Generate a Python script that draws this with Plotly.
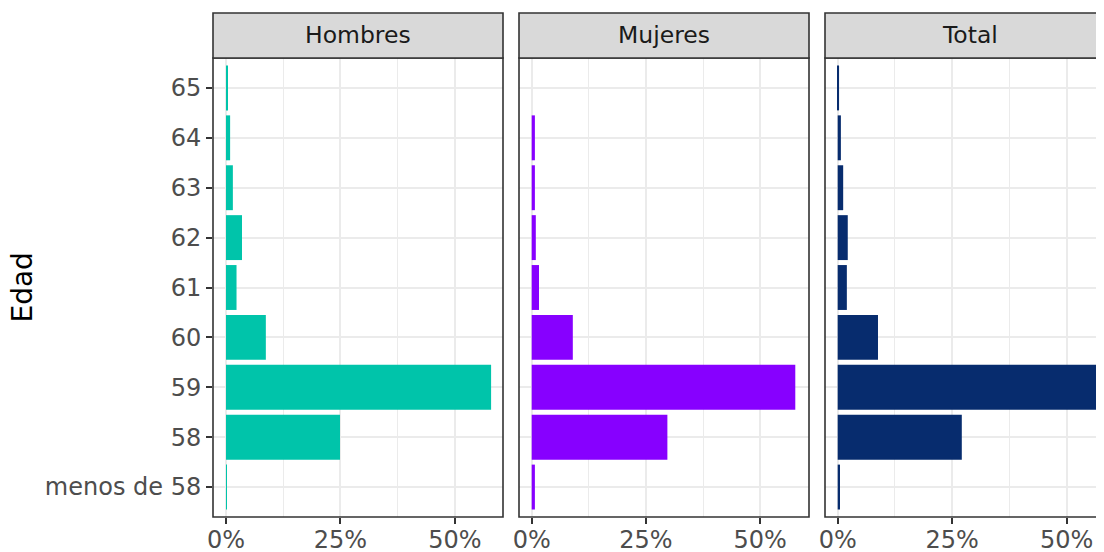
import plotly.graph_objects as go

categories = ['menos de 58', '58', '59', '60', '61', '62', '63', '64', '65']
hombres = [0.2, 24.9, 57.9, 8.7, 2.3, 3.5, 1.5, 0.9, 0.4]
mujeres = [0.7, 29.7, 57.7, 9.0, 1.6, 0.9, 0.7, 0.7, 0.0]
total = [0.5, 27.1, 57.7, 8.8, 2.0, 2.2, 1.2, 0.7, 0.3]
panels = ['Hombres', 'Mujeres', 'Total']
colors = ['#00C4AA', '#8700FF', '#072C6E']
x_tickvals = [0, 25, 50]
x_ticktext = ['0%', '25%', '50%']
x_minor = [12.5, 37.5]

OFF = 8  # page body margin
W, H = 1104 - OFF, 552 - OFF
series = [hombres, mujeres, total]


def fx(p):
    return (p - OFF) / W


def fy(p):
    return (H - (p - OFF)) / H


# panel pixel geometry (in page pixels)
px_left = [213, 519, 825]
px_right = [503, 809, 1104]
ranges = [[-2.84, 60.5], [-2.78, 60.7], [-2.77, 58.15]]
y0 = fy(517)
y1 = fy(58)
ys = fy(13)

fig = go.Figure()
grid = '#EBEBEB'
dark = '#333333'
tickfont = dict(family='DejaVu Sans', size=24, color='#4D4D4D')

for i in range(3):
    n = '' if i == 0 else str(i + 1)
    fig.add_trace(go.Bar(
        x=series[i], y=categories, orientation='h',
        marker=dict(color=colors[i], line=dict(width=0)),
        width=0.9, xaxis='x' + n, yaxis='y' + n, showlegend=False,
    ))
    fig.layout['xaxis' + n] = dict(
        domain=[fx(px_left[i]), min(1.0, fx(px_right[i]))], range=ranges[i],
        anchor='y' + n, tickvals=x_tickvals, ticktext=x_ticktext,
        ticks='outside', ticklen=6, tickwidth=2, tickcolor=dark,
        ticklabelstandoff=-5,
        showgrid=True, gridcolor=grid, gridwidth=2, zeroline=False,
        showline=False, tickfont=tickfont, automargin=False,
        minor=dict(tickvals=x_minor, showgrid=True, gridcolor=grid,
                   gridwidth=1, ticks=''),
        fixedrange=True,
    )
    fig.layout['yaxis' + n] = dict(
        domain=[y0, y1], anchor='x' + n, type='category',
        categoryorder='array', categoryarray=categories,
        range=[-0.6, 8.6], showgrid=True, gridcolor=grid, gridwidth=2,
        zeroline=False, showline=False, automargin=False,
        ticks='outside' if i == 0 else '', ticklen=6, tickwidth=2,
        tickcolor=dark, showticklabels=(i == 0), tickfont=tickfont,
        fixedrange=True,
    )
    xr = fx(px_right[i]) if i < 2 else 1.05
    # panel border
    fig.add_shape(type='rect', xref='paper', yref='paper',
                  x0=fx(px_left[i]), x1=xr, y0=y0, y1=y1,
                  line=dict(color=dark, width=1.6), layer='above')
    # strip
    fig.add_shape(type='rect', xref='paper', yref='paper',
                  x0=fx(px_left[i]), x1=xr, y0=y1, y1=ys,
                  fillcolor='#D9D9D9', line=dict(color=dark, width=1.6),
                  layer='above')
    cx = fx((px_left[i] + (px_right[i] if i < 2 else 1115)) / 2)
    fig.add_annotation(text=panels[i], xref='paper', yref='paper',
                       x=cx, y=(y1 + ys) / 2, showarrow=False,
                       font=dict(family='DejaVu Sans', size=23.5, color='#1A1A1A'),
                       xanchor='center', yanchor='middle')

fig.add_annotation(text='Edad', xref='paper', yref='paper',
                   x=fx(22), y=(y0 + y1) / 2, showarrow=False, textangle=-90,
                   font=dict(family='DejaVu Sans', size=28, color='#000000'),
                   xanchor='center', yanchor='middle')

fig.update_layout(
    width=W, height=H, margin=dict(l=0, r=0, t=0, b=0),
    paper_bgcolor='white', plot_bgcolor='white', template=None,
    bargap=0.1, font=dict(family='DejaVu Sans'),
)

fig.write_html('out.html')
